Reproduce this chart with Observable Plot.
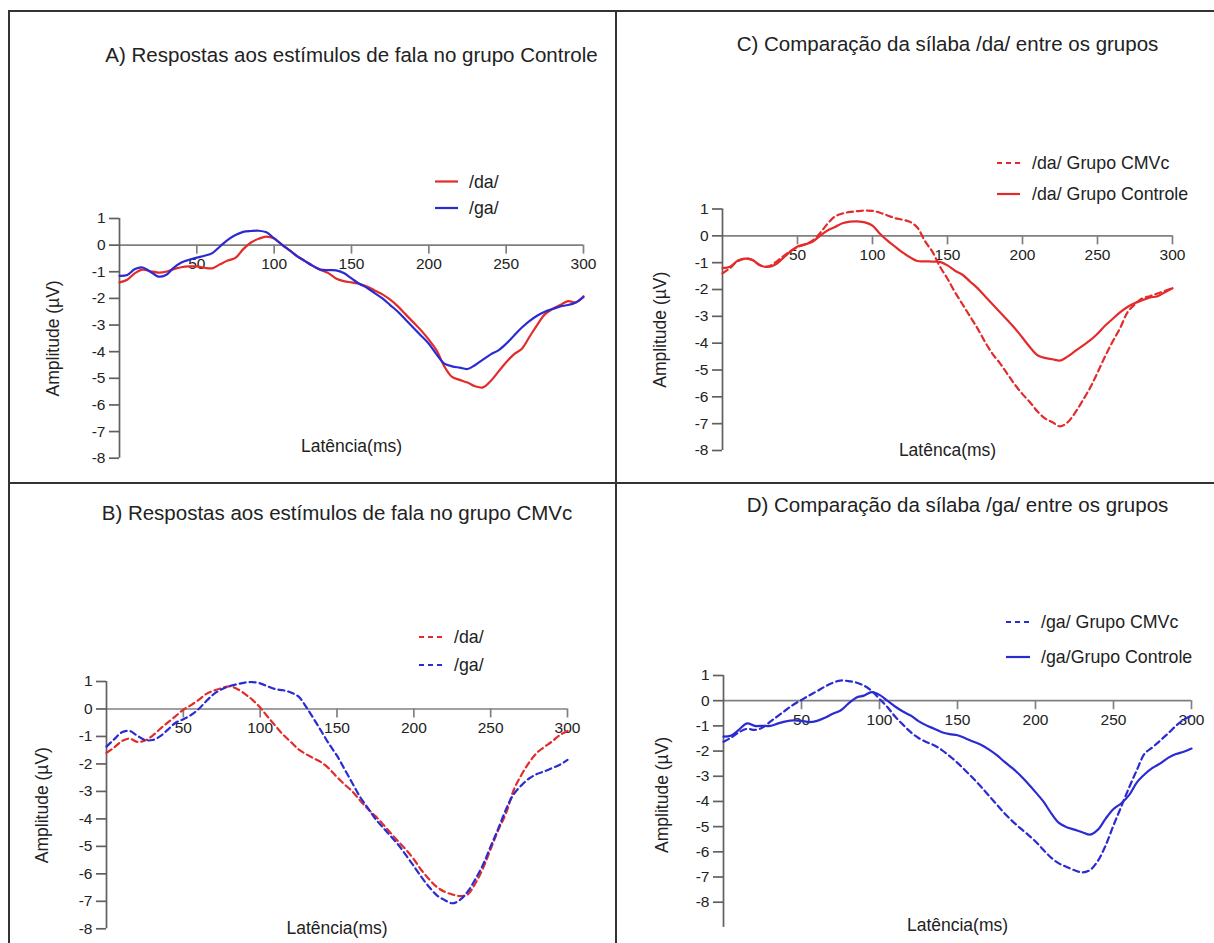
<!DOCTYPE html>
<html><head><meta charset="utf-8">
<script src="https://cdn.jsdelivr.net/npm/d3@7"></script>
<script src="https://cdn.jsdelivr.net/npm/@observablehq/plot@0.6"></script>
<style>
body{margin:0;background:#fff;}
#page{position:relative;width:1214px;height:943px;overflow:hidden;font-family:"Liberation Sans",Arial,sans-serif;background:#fff;}
.panel{position:absolute;}
.border{position:absolute;background:#333;z-index:5;}
#legend{position:absolute;left:0;top:0;z-index:4;pointer-events:none;}
</style></head><body><div id="page"></div>
<script>
// ---- data ----
const time = [0,5,10,15,20,25,30,35,40,45,50,55,60,65,70,75,80,85,90,95,100,105,110,115,120,125,130,135,140,145,150,155,160,165,170,175,180,185,190,195,200,205,210,215,220,225,230,235,240,245,250,255,260,265,270,275,280,285,290,295,300];
const xTicks = [50,100,150,200,250,300];
const yTicks = [1,0,-1,-2,-3,-4,-5,-6,-7,-8];

// Panel A: Controle
const aControleDa = [-1.4,-1.3,-1.05,-0.92,-0.98,-1.03,-1.0,-0.9,-0.83,-0.8,-0.8,-0.85,-0.87,-0.72,-0.58,-0.48,-0.15,0.1,0.24,0.32,0.25,0.02,-0.2,-0.42,-0.6,-0.78,-0.93,-1.05,-1.25,-1.35,-1.4,-1.45,-1.55,-1.7,-1.85,-2.05,-2.3,-2.6,-2.9,-3.2,-3.55,-3.95,-4.55,-4.95,-5.06,-5.16,-5.3,-5.34,-5.1,-4.75,-4.4,-4.1,-3.9,-3.45,-3.0,-2.6,-2.4,-2.25,-2.1,-2.15,-1.92];
const aControleGa = [-1.15,-1.12,-0.9,-0.84,-1.0,-1.18,-1.12,-0.85,-0.65,-0.55,-0.47,-0.4,-0.3,-0.05,0.2,0.38,0.5,0.53,0.54,0.48,0.25,0.02,-0.2,-0.42,-0.6,-0.78,-0.92,-0.94,-0.95,-1.05,-1.25,-1.45,-1.6,-1.8,-2.0,-2.25,-2.5,-2.8,-3.1,-3.4,-3.7,-4.1,-4.45,-4.55,-4.6,-4.65,-4.5,-4.3,-4.1,-3.95,-3.7,-3.4,-3.1,-2.85,-2.65,-2.5,-2.4,-2.3,-2.25,-2.15,-1.95];
// Panel B: CMVc
const bCmvcDa = [-1.6,-1.4,-1.17,-1.08,-1.2,-1.15,-0.97,-0.72,-0.49,-0.26,-0.03,0.14,0.33,0.55,0.67,0.76,0.82,0.73,0.55,0.33,0.05,-0.29,-0.62,-0.94,-1.2,-1.47,-1.65,-1.8,-1.95,-2.18,-2.48,-2.75,-3.0,-3.33,-3.63,-3.9,-4.2,-4.52,-4.83,-5.13,-5.47,-5.87,-6.2,-6.48,-6.65,-6.75,-6.81,-6.75,-6.35,-5.8,-5.1,-4.4,-3.8,-2.95,-2.4,-1.95,-1.6,-1.38,-1.18,-0.95,-0.8];
const bCmvcGa = [-1.37,-1.1,-0.85,-0.8,-0.97,-1.13,-1.13,-0.99,-0.75,-0.5,-0.37,-0.22,0.0,0.29,0.55,0.72,0.83,0.9,0.96,0.98,0.93,0.82,0.72,0.68,0.6,0.45,0.07,-0.37,-0.83,-1.29,-1.7,-2.2,-2.7,-3.2,-3.6,-4.0,-4.32,-4.63,-4.95,-5.33,-5.72,-6.12,-6.48,-6.78,-6.95,-7.07,-6.95,-6.65,-6.2,-5.67,-5.0,-4.35,-3.65,-3.1,-2.78,-2.53,-2.37,-2.27,-2.15,-2.03,-1.85];
// Panel C: /da/
const cDaCmvc = [-1.4,-1.2,-0.95,-0.85,-0.9,-1.1,-1.15,-1.0,-0.78,-0.58,-0.42,-0.32,-0.18,0.1,0.45,0.72,0.83,0.89,0.92,0.94,0.93,0.86,0.76,0.66,0.6,0.52,0.3,-0.2,-0.6,-1.15,-1.6,-2.1,-2.55,-3.0,-3.45,-3.95,-4.4,-4.75,-5.15,-5.55,-5.9,-6.2,-6.55,-6.8,-6.95,-7.1,-6.95,-6.6,-6.15,-5.67,-5.1,-4.5,-3.95,-3.45,-2.85,-2.55,-2.33,-2.25,-2.15,-2.05,-1.95];
const cDaControle = [-1.2,-1.15,-0.93,-0.85,-0.9,-1.1,-1.16,-1.08,-0.85,-0.6,-0.4,-0.32,-0.22,0.0,0.2,0.33,0.47,0.53,0.54,0.5,0.38,0.08,-0.18,-0.4,-0.62,-0.8,-0.94,-0.95,-0.96,-0.97,-1.1,-1.3,-1.45,-1.7,-1.95,-2.25,-2.55,-2.85,-3.15,-3.45,-3.8,-4.15,-4.45,-4.55,-4.6,-4.65,-4.5,-4.3,-4.1,-3.9,-3.65,-3.35,-3.1,-2.85,-2.65,-2.5,-2.4,-2.3,-2.25,-2.1,-1.95];
// Panel D: /ga/
const dGaCmvc = [-1.63,-1.46,-1.25,-1.12,-1.16,-1.07,-0.83,-0.6,-0.37,-0.15,0.03,0.21,0.38,0.56,0.71,0.8,0.78,0.72,0.6,0.39,0.07,-0.25,-0.63,-0.95,-1.25,-1.48,-1.64,-1.77,-1.96,-2.2,-2.47,-2.77,-3.08,-3.41,-3.76,-4.11,-4.46,-4.77,-5.05,-5.31,-5.59,-5.92,-6.23,-6.46,-6.6,-6.73,-6.82,-6.72,-6.36,-5.74,-4.95,-4.2,-3.45,-2.75,-2.1,-1.85,-1.58,-1.3,-1.0,-0.75,-0.6];
const dGaControle = [-1.43,-1.38,-1.15,-0.9,-1.0,-1.0,-1.0,-0.9,-0.82,-0.78,-0.8,-0.85,-0.8,-0.68,-0.52,-0.39,-0.12,0.12,0.2,0.34,0.23,0.0,-0.23,-0.43,-0.59,-0.81,-0.98,-1.11,-1.25,-1.33,-1.37,-1.49,-1.62,-1.75,-1.93,-2.15,-2.42,-2.67,-2.95,-3.28,-3.63,-4.0,-4.46,-4.85,-5.02,-5.12,-5.22,-5.32,-5.12,-4.68,-4.3,-4.07,-3.75,-3.24,-2.92,-2.67,-2.49,-2.27,-2.12,-2.03,-1.9];

const titles = [
  "A) Respostas aos estímulos de fala no grupo Controle",
  "B) Respostas aos estímulos de fala no grupo CMVc",
  "C) Comparação da sílaba /da/ entre os grupos",
  "D) Comparação da sílaba /ga/ entre os grupos"
];
const yLabel = "Amplitude (µV)";
const xLabels = ["Latência(ms)", "Latência(ms)", "Latênca(ms)", "Latência(ms)"];
const legendLabels = [
  ["/da/", "/ga/"],
  ["/da/", "/ga/"],
  ["/da/ Grupo CMVc", "/da/ Grupo Controle"],
  ["/ga/ Grupo CMVc", "/ga/Grupo Controle"]
];

// ---- styling ----
const RED = "#e42b2b", BLUE = "#2b2bd4";
const FONT = '"Liberation Sans", Arial, sans-serif';

const panels = [
  {left:0, top:0, width:616, height:482, mL:119, mR:33, mT:218, mB:24.3, title:titles[0], titleDy:-163, yDx:-66, yDy:0, xLabel:xLabels[0], xDy:-12, axisBottom:-8,
   series:[{v:aControleDa, c:RED, dash:false},{v:aControleGa, c:BLUE, dash:false}]},
  {left:0, top:482, width:616, height:461, mL:106, mR:49, mT:199, mB:14.7, title:titles[1], titleDy:-168, yDx:-64, yDy:0, xLabel:xLabels[1], xDy:0, axisBottom:-8,
   series:[{v:bCmvcDa, c:RED, dash:true},{v:bCmvcGa, c:BLUE, dash:true}]},
  {left:616, top:0, width:598, height:482, mL:106, mR:42, mT:208.5, mB:32, title:titles[2], titleDy:-165, yDx:-62, yDy:0, xLabel:xLabels[2], xDy:0, axisBottom:-8,
   series:[{v:cDaControle, c:RED, dash:false},{v:cDaCmvc, c:RED, dash:true}]},
  {left:616, top:482, width:598, height:461, mL:107, mR:23, mT:193, mB:41.3, title:titles[3], titleDy:-170, yDx:-61, yDy:6, xLabel:xLabels[3], xDy:23, axisBottom:-9,
   series:[{v:dGaControle, c:BLUE, dash:false},{v:dGaCmvc, c:BLUE, dash:true}]}
];

const page = document.getElementById("page");

for (const p of panels) {
  const marks = [
    Plot.text(xTicks, {x: d => d, y: 0, dy: 19, text: d => String(d), fontSize: 15.5, fill: "#222", textAnchor: "middle"}),
    Plot.ruleY([0], {stroke: "#808080", strokeWidth: 1.7}),
    Plot.ruleX(xTicks, {x: d => d, y1: 0, y2: 0, insetBottom: -9, stroke: "#808080", strokeWidth: 1.7}),
    Plot.ruleX([0], {y1: p.axisBottom, y2: 1, stroke: "#606060", strokeWidth: 1.7}),
    Plot.axisY({ticks: yTicks, tickSize: 10, tickPadding: 4, tickFormat: d => String(d), fontSize: 15.5, stroke: "#606060", fill: "#222", strokeWidth: 1.7, label: null}),
    Plot.text([p.title], {frameAnchor: "top", dy: p.titleDy, text: d => d, textAnchor: "middle", lineAnchor: "middle", fontSize: 20.5, fill: "#222"}),
    Plot.text([yLabel], {frameAnchor: "left", dx: p.yDx, dy: p.yDy, rotate: -90, text: d => d, textAnchor: "middle", lineAnchor: "middle", fontSize: 17.5, fill: "#222"}),
    Plot.text([p.xLabel], {frameAnchor: "bottom", dy: p.xDy, text: d => d, textAnchor: "middle", lineAnchor: "middle", fontSize: 17.5, fill: "#222"})
  ];
  for (const s of p.series) {
    const rows = time.map((t, i) => ({t, v: s.v[i]}));
    marks.push(Plot.line(rows, {x: "t", y: "v", stroke: s.c, strokeWidth: 2.2, strokeDasharray: s.dash ? "6,4" : null, curve: "catmull-rom"}));
  }
  const svg = Plot.plot({
    width: p.width, height: p.height,
    marginLeft: p.mL, marginRight: p.mR, marginTop: p.mT, marginBottom: p.mB,
    x: {domain: [0, 300], axis: null},
    y: {domain: [-8, 1]},
    style: {fontFamily: FONT, background: "transparent", overflow: "visible"},
    marks
  });
  svg.classList.add("panel");
  svg.style.left = p.left + "px";
  svg.style.top = p.top + "px";
  svg.style.maxWidth = "none";
  page.appendChild(svg);
}

// ---- legends (overlay) ----
const legendItems = [
  {x1:435, x2:458, y:181.5, tx:469, label:legendLabels[0][0], c:RED, dash:false},
  {x1:435, x2:458, y:208, tx:469, label:legendLabels[0][1], c:BLUE, dash:false},
  {x1:419, x2:444, y:637, tx:454, label:legendLabels[1][0], c:RED, dash:true},
  {x1:419, x2:444, y:665, tx:454, label:legendLabels[1][1], c:BLUE, dash:true},
  {x1:997, x2:1020, y:163, tx:1032, label:legendLabels[2][0], c:RED, dash:true},
  {x1:997, x2:1020, y:194, tx:1032, label:legendLabels[2][1], c:RED, dash:false},
  {x1:1006, x2:1030, y:622, tx:1041, label:legendLabels[3][0], c:BLUE, dash:true},
  {x1:1006, x2:1030, y:657, tx:1041, label:legendLabels[3][1], c:BLUE, dash:false}
];
const leg = d3.select(page).append("svg").attr("id", "legend").attr("width", 1214).attr("height", 943);
for (const it of legendItems) {
  leg.append("line").attr("x1", it.x1).attr("x2", it.x2).attr("y1", it.y).attr("y2", it.y)
    .attr("stroke", it.c).attr("stroke-width", 2.2).attr("stroke-dasharray", it.dash ? "5,4" : null);
  leg.append("text").attr("x", it.tx).attr("y", it.y).attr("dy", "0.35em")
    .attr("font-family", FONT).attr("font-size", 17.8).attr("fill", "#222").text(it.label);
}

// ---- panel borders ----
const borders = [
  {l:9, t:10, w:1205, h:2},
  {l:8, t:10, w:2, h:933},
  {l:615, t:10, w:2, h:933},
  {l:8, t:482, w:1206, h:2}
];
for (const b of borders) {
  const d = document.createElement("div");
  d.className = "border";
  Object.assign(d.style, {left: b.l + "px", top: b.t + "px", width: b.w + "px", height: b.h + "px"});
  page.appendChild(d);
}
</script>
</body></html>
